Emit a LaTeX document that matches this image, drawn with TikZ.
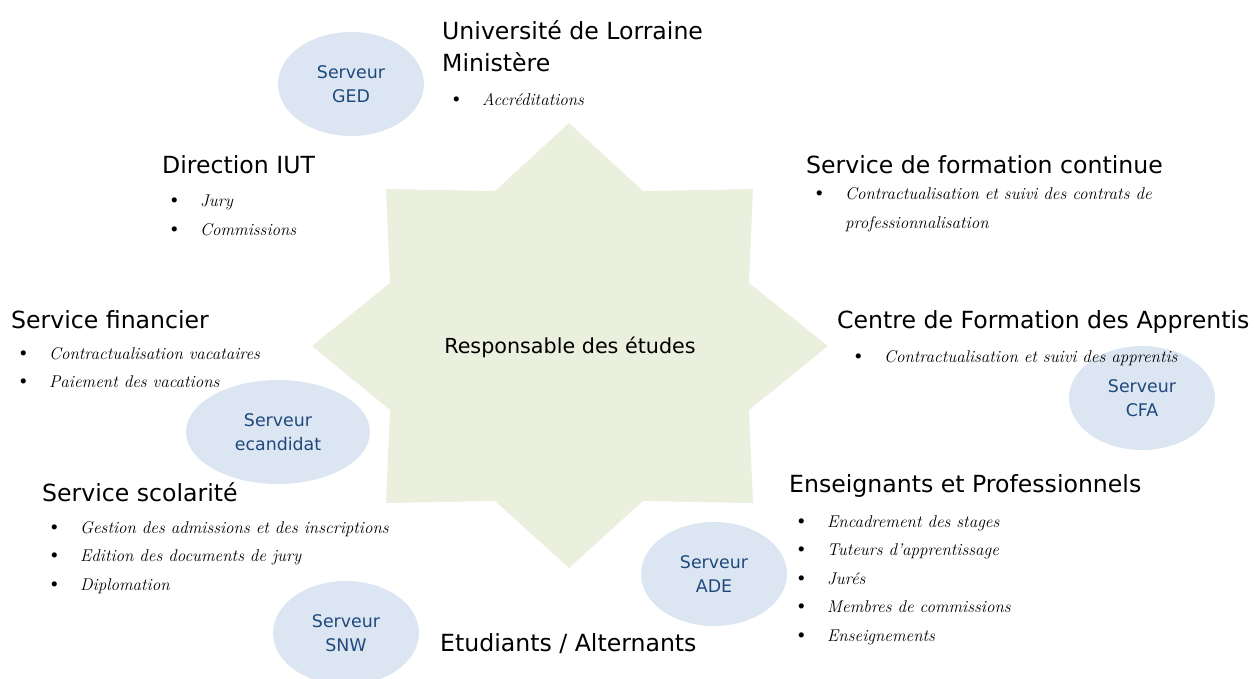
\documentclass[tikz,border=0pt]{standalone}
\usepackage{fontspec}
\usetikzlibrary{shapes.geometric,positioning}

\newfontfamily\headfont{DejaVu Sans}
\definecolor{starfill}{RGB}{235,240,222}
\definecolor{serverfill}{RGB}{220,230,242}
\definecolor{servertext}{RGB}{31,73,125}
\newcommand{\puce}{\makebox[34pt][l]{\upshape\scalebox{1.35}{\textbullet}}}

\begin{document}
\begin{tikzpicture}[
                    x=1pt, y=-1pt,
                    titre/.style={
                        anchor=base west,
                        inner sep=0pt,
                        font=\headfont\fontsize{23.6}{32}\selectfont
                    },
                    liste/.style={
                        anchor=base west,
                        inner sep=0pt,
                        font=\itshape\fontsize{17}{28.5}\selectfont
                    },
                    serveur/.style={
                        ellipse,
                        fill=serverfill,
                        text=servertext,
                        minimum width=146pt,
                        minimum height=104pt,
                        inner sep=0pt,
                        align=center,
                        font=\headfont\fontsize{17.4}{24}\selectfont
                    },
                    node distance=32pt
                ]
                \useasboundingbox (0,0) rectangle (1257,679);

                % etoile centrale
                \fill [starfill] (569,123) -- (643,191) -- (753,189) -- (749,283) -- (828,346)
                    -- (749,410) -- (753,503) -- (643,501) -- (569,568) -- (495,501)
                    -- (386,503) -- (390,410) -- (312,346) -- (390,283) -- (386,189)
                    -- (495,191) -- cycle;
                \node (RE) [font=\headfont\fontsize{20.7}{24}\selectfont] at (570,347) {Responsable des études};

                % serveurs
                \node (GED) [serveur] at (351,84) {Serveur\\GED};
                \node (ECA) [serveur, minimum width=184pt] at (278,432) {Serveur\\ecandidat};
                \node (CFA) [serveur] at (1142,398) {Serveur\\CFA};
                \node (ADE) [serveur] at (714,574) {Serveur\\ADE};
                \node (SNW) [serveur] at (346,633) {Serveur\\SNW};

                % acteurs
                \node (UL) [titre] at (442,40) {Université de Lorraine};
                \node (MIN) [titre, below=32pt of UL.base west, anchor=base west] {Ministère};
                \node (MIN-l) [liste, below=34pt of MIN.base west, anchor=base west, xshift=6pt]
                    {\begin{tabular}[t]{@{}l@{}}\puce Accréditations\end{tabular}};

                \node (DIR) [titre] at (162,174) {Direction IUT};
                \node (DIR-l) [liste, below=33pt of DIR.base west, anchor=base west, xshift=4pt]
                    {\begin{tabular}[t]{@{}l@{}}\puce Jury\\ \puce Commissions\end{tabular}};

                \node (SFC) [titre] at (806,174) {Service de formation continue};
                \node (SFC-l) [liste, below=26pt of SFC.base west, anchor=base west, xshift=5pt]
                    {\begin{tabular}[t]{@{}l@{}}\puce Contractualisation et suivi des contrats de\\ \makebox[34pt]{}professionnalisation\end{tabular}};

                \node (SF) [titre] at (11,328) {Service financier};
                \node (SF-l) [liste, below=31pt of SF.base west, anchor=base west, xshift=4pt]
                    {\begin{tabular}[t]{@{}l@{}}\puce Contractualisation vacataires\\ \puce Paiement des vacations\end{tabular}};

                \node (CFAT) [titre] at (837,328) {Centre de Formation des Apprentis};
                \node (CFAT-l) [liste, below=34pt of CFAT.base west, anchor=base west, xshift=13pt]
                    {\begin{tabular}[t]{@{}l@{}}\puce Contractualisation et suivi des apprentis\end{tabular}};

                \node (SCO) [titre] at (42,501) {Service scolarité};
                \node (SCO-l) [liste, below=32pt of SCO.base west, anchor=base west, xshift=4pt]
                    {\begin{tabular}[t]{@{}l@{}}\puce Gestion des admissions et des inscriptions\\ \puce Edition des documents de jury\\ \puce Diplomation\end{tabular}};

                \node (ENS) [titre] at (789,492) {Enseignants et Professionnels};
                \node (ENS-l) [liste, below=35pt of ENS.base west, anchor=base west, xshift=4pt]
                    {\begin{tabular}[t]{@{}l@{}}\puce Encadrement des stages\\ \puce Tuteurs d’apprentissage\\ \puce Jurés\\ \puce Membres de commissions\\ \puce Enseignements\end{tabular}};

                \node (ETU) [titre] at (440,651) {Etudiants / Alternants};
            \end{tikzpicture}
\end{document}
